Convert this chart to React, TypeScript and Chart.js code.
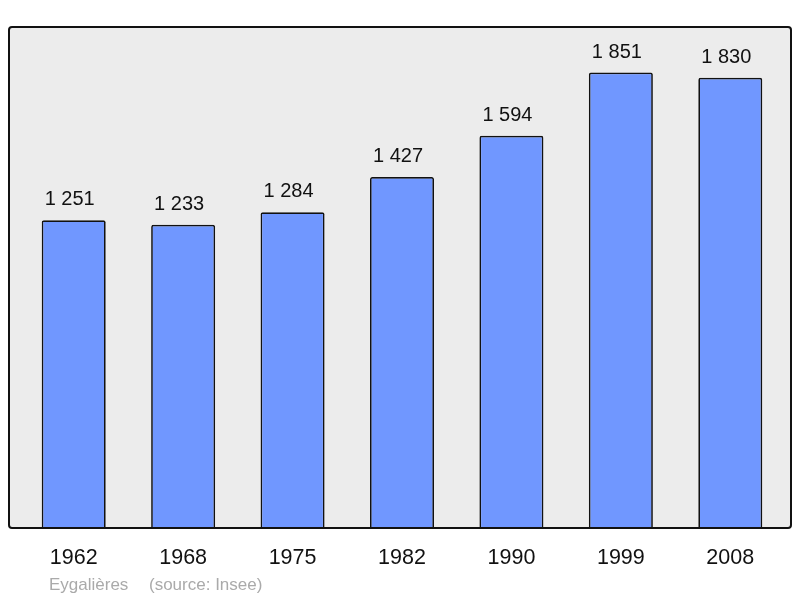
import React, { useEffect, useRef } from "react";
import { Chart, registerables } from "chart.js";

Chart.register(...registerables);

const years = ["1962", "1968", "1975", "1982", "1990", "1999", "2008"];
const population = [1251, 1233, 1284, 1427, 1594, 1851, 1830];
const footerPlace = "Eygalières";
const footerSource = "(source: Insee)";

const FONT = "'Liberation Sans', Arial, sans-serif";

const fmt = (v: number) => {
  const s = String(v);
  return s.length > 3 ? s.slice(0, s.length - 3) + " " + s.slice(s.length - 3) : s;
};

const framePlugin = {
  id: "frame",
  beforeDatasetsDraw(chart: any) {
    const { ctx, chartArea } = chart;
    const x = chartArea.left - 10;
    const y = chartArea.top;
    const w = chartArea.right + 6 - x;
    const h = chartArea.bottom - 0.5 - y;
    ctx.save();
    ctx.beginPath();
    ctx.roundRect(x, y, w, h, 3);
    ctx.fillStyle = "#ececec";
    ctx.fill();
    ctx.restore();
  },
  afterDatasetsDraw(chart: any) {
    const { ctx, chartArea } = chart;
    const x = chartArea.left - 10;
    const y = chartArea.top;
    const w = chartArea.right + 6 - x;
    const h = chartArea.bottom - 0.5 - y;
    ctx.save();
    ctx.beginPath();
    ctx.roundRect(x, y, w, h, 3);
    ctx.lineWidth = 2;
    ctx.strokeStyle = "#111";
    ctx.stroke();
    // value labels
    const meta = chart.getDatasetMeta(0);
    ctx.fillStyle = "#111";
    ctx.font = `20px ${FONT}`;
    ctx.textAlign = "center";
    ctx.textBaseline = "alphabetic";
    meta.data.forEach((bar: any, i: number) => {
      ctx.fillText(fmt(population[i]), bar.x - 4, bar.y - 15);
    });
    // footer
    ctx.fillStyle = "#aaaaaa";
    ctx.font = `17px ${FONT}`;
    ctx.textAlign = "left";
    ctx.fillText(footerPlace, chartArea.left + 30, 590);
    ctx.fillText(footerSource, chartArea.left + 130, 590);
    ctx.restore();
  },
};

export default function App() {
  const ref = useRef<HTMLCanvasElement | null>(null);
  useEffect(() => {
    if (!ref.current) return;
    const chart = new Chart(ref.current, {
      type: "bar",
      data: {
        labels: years,
        datasets: [
          {
            data: population,
            backgroundColor: "#7097ff",
            borderColor: "#111",
            borderWidth: 1.7,
            borderRadius: 2,
            borderSkipped: "bottom",
            barPercentage: 0.585,
            categoryPercentage: 1,
          },
        ],
      },
      options: {
        animation: false,
        responsive: false,
        maintainAspectRatio: false,
        layout: { padding: { left: 19, right: 15, top: 27, bottom: 0 } },
        plugins: { legend: { display: false }, tooltip: { enabled: false } },
        scales: {
          x: {
            grid: { display: false },
            border: { display: false },
            ticks: {
              color: "#111",
              font: { family: FONT, size: 21.5 },
              padding: 9,
            },
            afterFit: (scale: any) => {
              scale.height = 69.5;
            },
          },
          y: {
            display: false,
            min: 0,
            max: 2036,
          },
        },
      },
      plugins: [framePlugin],
    });
    return () => chart.destroy();
  }, []);
  return (
    <div style={{ position: "fixed", left: 0, top: 0, width: 800, height: 598, background: "#fff" }}>
      <canvas ref={ref} width={800} height={598} style={{ width: 800, height: 598 }} />
    </div>
  );
}
